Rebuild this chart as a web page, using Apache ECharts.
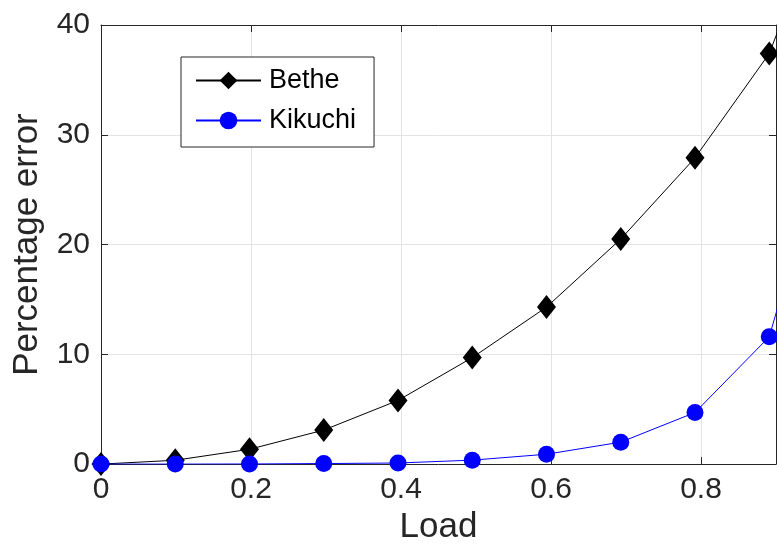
<!DOCTYPE html>
<html>
<head>
<meta charset="utf-8">
<script src="https://cdn.jsdelivr.net/npm/echarts@6/dist/echarts.min.js"></script>
<style>
html,body{margin:0;padding:0;background:#fff;}
#chart{width:777px;height:550px;}
</style>
</head>
<body>
<div id="chart"></div>
<script>
const loads = [0, 0.099, 0.198, 0.297, 0.396, 0.495, 0.594, 0.693, 0.792, 0.891, 0.99];
const betheError = [0, 0.35, 1.35, 3.1, 5.8, 9.7, 14.3, 20.5, 27.9, 37.4, 55];
const kikuchiError = [0, 0, 0.01, 0.05, 0.1, 0.36, 0.9, 2.0, 4.7, 11.6, 35];
const xTicks = [0, 0.2, 0.4, 0.6, 0.8];
const yTicks = [0, 10, 20, 30, 40];

const FONT = '"Liberation Sans", Arial, sans-serif';
const AX = '#262626';

const chart = echarts.init(document.getElementById('chart'), null, {renderer: 'canvas'});

function pairs(xs, ys) { return xs.map((x, i) => [x, ys[i]]); }

const option = {
  animation: false,
  backgroundColor: '#ffffff',
  grid: {left: 101, right: 1, top: 25, bottom: 84, containLabel: false},
  legend: {
    orient: 'vertical',
    left: 181, top: 57,
    padding: [10, 18, 13, 14],
    itemWidth: 65, itemHeight: 22, itemGap: 13,
    backgroundColor: '#ffffff',
    borderColor: AX, borderWidth: 1, borderRadius: 0,
    textStyle: {fontFamily: FONT, fontSize: 27, color: '#000', padding: [0, 0, 0, 3]},
    data: ['Bethe', 'Kikuchi']
  },
  xAxis: [{
    type: 'value', min: 0, max: 0.9, interval: 0.2,
    name: 'Load', nameLocation: 'middle', nameGap: 45,
    nameTextStyle: {fontFamily: FONT, fontSize: 35, color: AX},
    axisLine: {show: true, onZero: false, lineStyle: {color: AX, width: 1}},
    axisTick: {show: true, inside: true, length: 7, lineStyle: {color: AX}},
    axisLabel: {fontFamily: FONT, fontSize: 30, color: AX, margin: 11, showMaxLabel: false,
      formatter: v => xTicks.some(t => Math.abs(t - v) < 1e-9) ? String(+v.toFixed(1)) : ''},
    splitLine: {show: true, lineStyle: {color: '#e3e3e3', width: 1}}
  }, {
    type: 'value', min: 0, max: 0.9, interval: 0.2, position: 'top',
    axisLine: {show: true, onZero: false, lineStyle: {color: AX, width: 1}},
    axisTick: {show: true, inside: true, length: 7, lineStyle: {color: AX}},
    axisLabel: {show: false}, splitLine: {show: false}
  }],
  yAxis: [{
    type: 'value', min: 0, max: 40, interval: 10,
    name: 'Percentage error', nameLocation: 'middle', nameGap: 56,
    nameTextStyle: {fontFamily: FONT, fontSize: 35, color: AX},
    axisLine: {show: true, onZero: false, lineStyle: {color: AX, width: 1}},
    axisTick: {show: true, inside: true, length: 7, lineStyle: {color: AX}},
    axisLabel: {fontFamily: FONT, fontSize: 30, color: AX, margin: 11,
      formatter: v => yTicks.includes(v) ? String(v) : ''},
    splitLine: {show: true, lineStyle: {color: '#e3e3e3', width: 1}}
  }, {
    type: 'value', min: 0, max: 40, interval: 10, position: 'right',
    axisLine: {show: true, onZero: false, lineStyle: {color: AX, width: 1}},
    axisTick: {show: true, inside: true, length: 7, lineStyle: {color: AX}},
    axisLabel: {show: false}, splitLine: {show: false}
  }],
  series: [{
    name: 'Bethe', type: 'line', xAxisIndex: 0, yAxisIndex: 0,
    data: pairs(loads, betheError),
    symbol: 'diamond', symbolSize: [19, 24],
    lineStyle: {color: '#000', width: 1},
    itemStyle: {color: '#000'},
    clip: true, z: 2
  }, {
    name: 'Kikuchi', type: 'line', xAxisIndex: 0, yAxisIndex: 0,
    data: pairs(loads, kikuchiError),
    symbol: 'circle', symbolSize: 17,
    lineStyle: {color: '#0000ff', width: 1},
    itemStyle: {color: '#0000ff'},
    clip: true, z: 3
  }]
};
chart.setOption(option);
</script>
</body>
</html>
